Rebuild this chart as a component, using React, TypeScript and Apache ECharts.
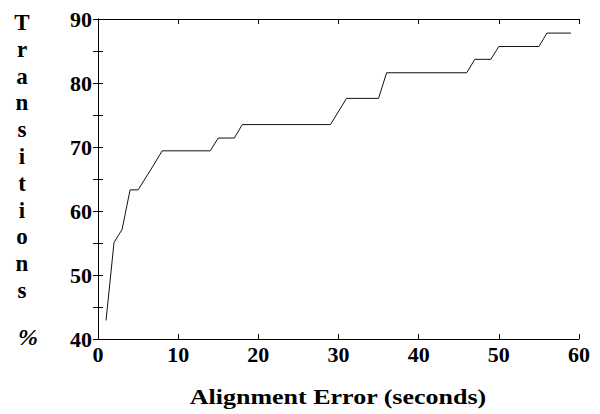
import React, { useEffect, useRef } from "react";
import * as echarts from "echarts";

const errorSeconds = [1, 2, 3, 4, 5, 6, 7, 8, 14, 15, 17, 18, 29, 31, 35, 36, 46, 47, 49, 50, 55, 56, 59];
const transitionsPct = [42.9, 55.1, 57.1, 63.3, 63.3, 65.3, 67.3, 69.4, 69.4, 71.4, 71.4, 73.5, 73.5, 77.6, 77.6, 81.6, 81.6, 83.7, 83.7, 85.7, 85.7, 87.8, 87.8];
const xTicks = [0, 10, 20, 30, 40, 50, 60];
const yTicks = [40, 50, 60, 70, 80, 90];
const xTitle = "Alignment Error (seconds)";
const yTitleLetters = ["T", "r", "a", "n", "s", "i", "t", "i", "o", "n", "s"];

const FONT = "'Liberation Serif', 'Times New Roman', serif";

export default function App() {
  const ref = useRef<HTMLDivElement>(null);
  useEffect(() => {
    if (!ref.current) return;
    document.body.style.margin = "0";
    document.body.style.overflow = "hidden";
    const chart = echarts.init(ref.current, null, { renderer: "svg" });
    const axisLine = { show: true, lineStyle: { color: "#000", width: 1 } };
    const tick = { show: true, inside: true, length: 5, lineStyle: { color: "#000", width: 1 } };
    chart.setOption({
      animation: false,
      backgroundColor: "#fff",
      grid: { left: 98, right: 21, top: 19, bottom: 75, containLabel: false },
      xAxis: [
        {
          type: "value",
          min: xTicks[0],
          max: xTicks[xTicks.length - 1],
          interval: 10,
          axisLine,
          axisTick: tick,
          splitLine: { show: false },
          axisLabel: { color: "#000", fontFamily: FONT, fontWeight: "bold", fontSize: 22, margin: 4 },
        },
        {
          type: "value",
          position: "top",
          min: xTicks[0],
          max: xTicks[xTicks.length - 1],
          interval: 10,
          axisLine,
          axisTick: tick,
          splitLine: { show: false },
          axisLabel: { show: false },
        },
      ],
      yAxis: [
        {
          type: "value",
          min: yTicks[0],
          max: yTicks[yTicks.length - 1],
          interval: 5,
          axisLine,
          axisTick: tick,
          splitLine: { show: false },
          axisLabel: {
            color: "#000",
            fontFamily: FONT,
            fontWeight: "bold",
            fontSize: 22,
            margin: 6,
            formatter: (v: number) => (yTicks.includes(v) ? String(v) : ""),
          },
        },
        {
          type: "value",
          position: "right",
          min: yTicks[0],
          max: yTicks[yTicks.length - 1],
          interval: 5,
          axisLine,
          axisTick: tick,
          splitLine: { show: false },
          axisLabel: { show: false },
        },
      ],
      series: [
        {
          type: "line",
          data: errorSeconds.map((x, i) => [x, transitionsPct[i]]),
          showSymbol: false,
          lineStyle: { color: "#111", width: 1 },
        },
      ],
      graphic: [
        {
          type: "text",
          x: 338,
          y: 397,
          scaleX: 1.3,
          style: {
            text: xTitle,
            fontFamily: FONT,
            fontWeight: "bold",
            fontSize: 20,
            align: "center",
            verticalAlign: "middle",
            fill: "#000",
          },
        },
        {
          type: "text",
          x: 22,
          y: 9,
          style: {
            text: yTitleLetters.join("\n"),
            fontFamily: FONT,
            fontWeight: "bold",
            fontSize: 23,
            lineHeight: 26.8,
            align: "center",
            fill: "#000",
          },
        },
        {
          type: "text",
          x: 28,
          y: 337,
          style: {
            text: "%",
            fontFamily: FONT,
            fontWeight: "bold",
            fontStyle: "italic",
            fontSize: 24,
            align: "center",
            verticalAlign: "middle",
            fill: "#000",
          },
        },
      ],
    });
    return () => chart.dispose();
  }, []);
  return <div ref={ref} style={{ width: 600, height: 414 }} />;
}
